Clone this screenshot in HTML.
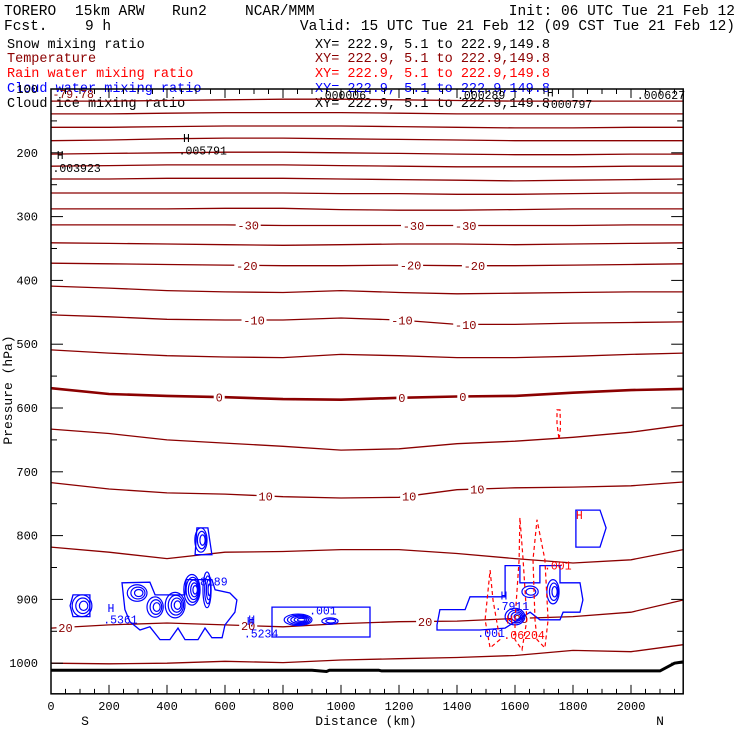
<!DOCTYPE html>
<html><head><meta charset="utf-8"><style>
html,body{margin:0;padding:0;background:#fff;}
svg{display:block;}
text{font-family:"Liberation Mono",monospace;}
</style></head><body>
<svg id="chart" width="740" height="740" viewBox="0 0 740 740" xmlns="http://www.w3.org/2000/svg">
<g font-size="14.5" fill="#000">
<text x="4" y="15">TORERO</text>
<text x="75" y="15">15km ARW</text>
<text x="172" y="15">Run2</text>
<text x="245" y="15">NCAR/MMM</text>
<text x="735" y="15" text-anchor="end">Init: 06 UTC Tue 21 Feb 12</text>
<text x="4" y="30">Fcst.</text>
<text x="85" y="30">9 h</text>
<text x="735" y="30" text-anchor="end">Valid: 15 UTC Tue 21 Feb 12 (09 CST Tue 21 Feb 12)</text>
</g>
<g font-size="13.5">
<text x="7" y="48" fill="#000">Snow mixing ratio</text>
<text x="315" y="48" fill="#000">XY= 222.9,  5.1 to 222.9,149.8</text>
<text x="7" y="62" fill="#8b0000">Temperature</text>
<text x="315" y="62" fill="#8b0000">XY= 222.9,  5.1 to 222.9,149.8</text>
<text x="7" y="77" fill="#ff0000">Rain water mixing ratio</text>
<text x="315" y="77" fill="#ff0000">XY= 222.9,  5.1 to 222.9,149.8</text>
<text x="7" y="92" fill="#0000ff">Cloud water mixing ratio</text>
<text x="315" y="92" fill="#0000ff">XY= 222.9,  5.1 to 222.9,149.8</text>
<text x="7" y="107" fill="#000">Cloud ice mixing ratio</text>
<text x="315" y="107" fill="#000">XY= 222.9,  5.1 to 222.9,149.8</text>
</g>
<g id="plot"></g>
<g id="axes"></g>
<text x="12" y="390" transform="rotate(-90 12 390)" text-anchor="middle" font-size="13">Pressure (hPa)</text>
<text x="366" y="725" text-anchor="middle" font-size="13">Distance (km)</text>
<text x="85" y="725" text-anchor="middle" font-size="13">S</text>
<text x="660" y="725" text-anchor="middle" font-size="13">N</text>
</svg>
<script>
const nodesKm = [0,200,400,600,800,1000,1200,1400,1600,1800,2000,2180];
const tempLevels = [-75,-70,-65,-60,-55,-50,-45,-40,-35,-30,-25,-20,-15,-10,-5,0,5,10,15,20,25];
const tempPressures = [
[119,119,118,117,116,116,117,118,119,119,119,119],
[139,139,138,137,137,137,138,139,139,139,139,139],
[160,160,159,158,158,158,159,160,161,161,160,160],
[181,180,178,177,177,178,179,180,181,181,181,181],
[202,201,200,199,199,200,201,202,203,203,202,202],
[221,220,219,219,219,220,221,222,222,222,221,221],
[241,241,240,240,240,241,242,243,244,243,242,241],
[263,263,263,263,263,264,264,265,265,264,263,263],
[288,288,288,287,287,289,290,290,289,288,288,288],
[313,313,313,313,314,314,314,314,314,314,313,313],
[341,342,343,344,345,344,343,343,344,343,342,341],
[373,374,375,376,377,377,376,377,377,376,375,374],
[409,412,416,418,419,416,419,421,420,419,418,418],
[454,457,461,462,462,459,462,469,469,467,466,465],
[509,514,518,520,521,516,518,521,521,519,516,514],
[569,578,581,583,586,587,584,582,581,576,572,570],
[633,640,650,655,660,666,664,656,652,646,638,627],
[717,727,733,735,739,741,740,728,725,724,722,716],
[818,826,836,826,825,822,822,828,836,843,838,822],
[945,940,937,940,943,938,935,934,930,927,920,901],
[1000,1001,1000,997,999,995,993,991,988,980,982,971]
];
const tempLabelLevels = [-30,-30,-30,-20,-20,-20,-10,-10,-10,0,0,0,10,10,10,20,20,20,20];
const tempLabelKm = [680,1250,1430,675,1240,1460,700,1210,1430,580,1210,1420,740,1235,1470,50,680,1290,1620];
const groundKm = [0,900,950,960,1130,1140,2100,2150,2180];
const groundP = [1011,1011,1013,1011,1011,1012,1012,1000,998];
const cloudPolys = [
[[76,893],[134,893],[134,927],[76,927],[66,910]],
[[245,874],[341,873],[359,893],[462,893],[466,869],[555,869],[566,885],[617,890],[641,901],[634,920],[600,940],[590,960],[555,960],[531,945],[507,963],[462,963],[438,945],[410,963],[376,963],[341,943],[307,948],[272,935],[255,916]],
[[497,830],[503,788],[541,788],[555,830]],
[[762,912],[1100,912],[1100,959],[762,959]],
[[1331,940],[1341,916],[1428,916],[1445,896],[1566,896],[1566,847],[1617,847],[1617,874],[1686,874],[1686,847],[1755,847],[1755,874],[1824,874],[1834,901],[1824,920],[1766,920],[1755,932],[1686,932],[1652,920],[1566,945],[1479,948],[1331,948]],
[[1810,760],[1893,760],[1914,788],[1893,818],[1810,818]]
];
const cellKm = [107,297,359,428,486,538,517,852,962,1600,1652,1731];
const cellP = [910,890,912,909,885,885,807,932,934,927,888,888];
const cellRx = [34,34,28,34,28,14,21,48,28,34,28,21];
const cellRy = [17,13,16,20,24,28,19,9,5,13,9,19];
const cellRings = [3,3,3,4,5,4,3,5,2,4,2,3];
const rainPolys = [
[[1600,932],[1614,838],[1617,772],[1628,838],[1641,932],[1624,979],[1600,963]],
[[1669,932],[1662,838],[1676,775],[1703,838],[1714,932],[1703,976],[1676,963]],
[[1514,854],[1524,901],[1548,963],[1514,976],[1497,932]],
[[1745,603],[1755,603],[1757,630],[1752,650],[1745,625]]
];
const yTicks = [100,200,300,400,500,600,700,800,900,1000];
const xTicks = [0,200,400,600,800,1000,1200,1400,1600,1800,2000];
const annotText = ["-79.78",".000006",".000289","H",".000797",".000627","H",".003923","H",".005791",
 "H",".5361","H",".8189","H",".5234",".001","H",".7911",".001","H",".06204","H",".001"];
const annotKm = [5,920,1400,1710,1700,2020,20,5,455,440,195,180,680,490,675,665,890,1550,1530,1470,1570,1560,1810,1700];
const annotP = [114,116,116,112,130,116,210,230,183,203,920,938,938,878,940,960,924,900,917,959,938,962,774,853];
const annotColor = ["#8b0000","#000","#000","#000","#000","#000","#000","#000","#000","#000",
 "#0000ff","#0000ff","#0000ff","#0000ff","#0000ff","#0000ff","#0000ff","#0000ff","#0000ff","#0000ff","#ff0000","#ff0000","#ff0000","#ff0000"];

const NS='http://www.w3.org/2000/svg';
const X = d => 51 + d*0.29;
const Y = p => 89 + (p-100)*0.638;
const plot = document.getElementById('plot');
const axes = document.getElementById('axes');
function mk(tag, parent, attrs){const e=document.createElementNS(NS,tag);for(const k in attrs)e.setAttribute(k,attrs[k]);parent.appendChild(e);return e;}
function interpP(row,d){for(let i=0;i<nodesKm.length-1;i++){if(d<=nodesKm[i+1]){const t=(d-nodesKm[i])/(nodesKm[i+1]-nodesKm[i]);return row[i]+t*(row[i+1]-row[i]);}}return row[row.length-1];}

tempLevels.forEach((lv,i)=>{
  const pts = nodesKm.map((d,j)=>X(d).toFixed(1)+','+Y(tempPressures[i][j]).toFixed(1)).join(' ');
  const l = mk('polyline',plot,{points:pts,fill:'none',stroke:'#8b0000','stroke-width':lv===0?2.6:1.3});
  
  
});
tempLabelLevels.forEach((lv,i)=>{
  const idx = tempLevels.indexOf(lv);
  const d = tempLabelKm[i];
  const y = Y(interpP(tempPressures[idx],d));
  const txt = String(lv);
  const w = txt.length*7+4;
  const r = mk('rect',plot,{x:X(d)-w/2,y:y-6,width:w,height:12,fill:'#fff'});
  
  
  const t = mk('text',plot,{x:X(d),y:y+4.5,'text-anchor':'middle','font-size':12,fill:'#8b0000'});
  t.textContent = txt;
  
  
});
const gpts = groundKm.map((d,i)=>X(d).toFixed(1)+','+Y(groundP[i]).toFixed(1)).join(' ');
const gl = mk('polyline',plot,{points:gpts,fill:'none',stroke:'#000','stroke-width':3});



cloudPolys.forEach(poly=>{
  const pg = mk('polygon',plot,{points:poly.map(q=>X(q[0]).toFixed(1)+','+Y(q[1]).toFixed(1)).join(' '),fill:'none',stroke:'#0000ff','stroke-width':1.3});
  
  
});
cellKm.forEach((d,i)=>{
  for(let r=0;r<cellRings[i];r++){
    const f = 1 - r/(cellRings[i]+0.5);
    const e = mk('ellipse',plot,{cx:X(d)+r*0.8,cy:Y(cellP[i]),rx:cellRx[i]*0.29*f,ry:cellRy[i]*0.638*f,fill:'none',stroke:'#0000ff','stroke-width':1.2});
    
    
  }
});
rainPolys.forEach(poly=>{
  const pg = mk('polygon',plot,{points:poly.map(q=>X(q[0]).toFixed(1)+','+Y(q[1]).toFixed(1)).join(' '),fill:'none',stroke:'#ff0000','stroke-width':1.2,'stroke-dasharray':'4,3'});
  
  
});
annotText.forEach((s,i)=>{
  const t = mk('text',plot,{x:X(annotKm[i]),y:Y(annotP[i]),'font-size':11.5,fill:annotColor[i]});
  t.textContent = s;
  
  
});

const fr = mk('rect',axes,{x:X(0),y:Y(100),width:X(2180)-X(0),height:Y(1048)-Y(100),fill:'none',stroke:'#000','stroke-width':1.5});


for(let p=100;p<=1048;p+=50){
  const len = p%100===0?12:6;
  const a = mk('line',axes,{x1:X(0),x2:X(0)+len,y1:Y(p),y2:Y(p),stroke:'#000'});
  
  
  const b = mk('line',axes,{x1:X(2180),x2:X(2180)-len,y1:Y(p),y2:Y(p),stroke:'#000'});
  
  
}
for(let d=0;d<=2180;d+=50){
  const len = d%200===0?9:5;
  const a = mk('line',axes,{x1:X(d),x2:X(d),y1:Y(1048),y2:Y(1048)-len,stroke:'#000'});
  
  
  const b = mk('line',axes,{x1:X(d),x2:X(d),y1:Y(100),y2:Y(100)+len,stroke:'#000'});
  
  
}
yTicks.forEach(p=>{
  const t = mk('text',axes,{x:38,y:Y(p)+4,'text-anchor':'end','font-size':12});
  t.textContent = p;
  
  
});
xTicks.forEach(d=>{
  const t = mk('text',axes,{x:X(d),y:710,'text-anchor':'middle','font-size':12});
  t.textContent = d;
  
  
});
</script>
</body></html>
